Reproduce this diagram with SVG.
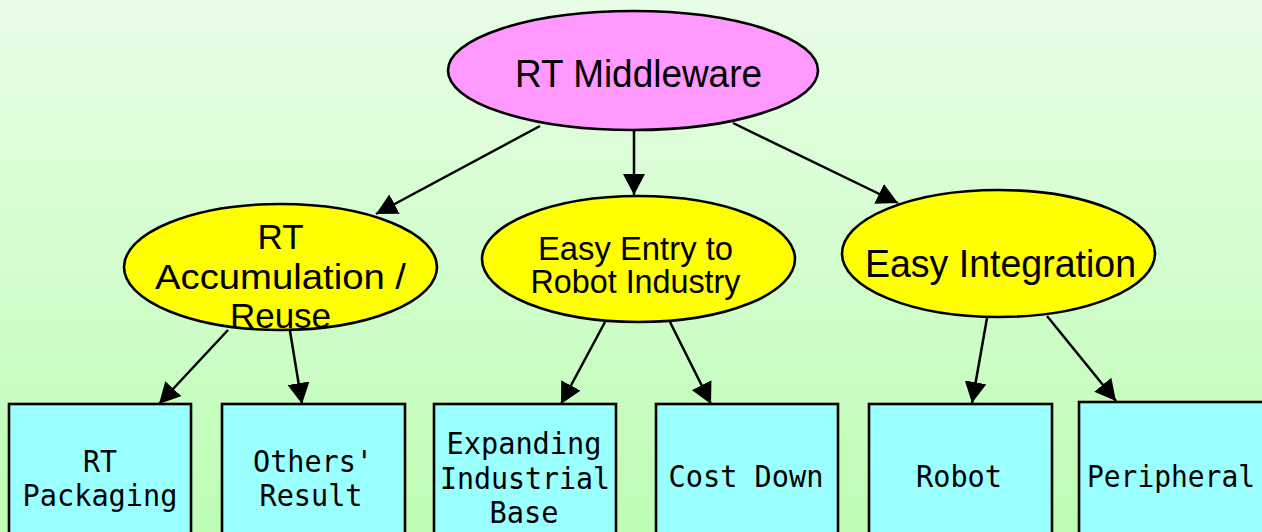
<svg xmlns="http://www.w3.org/2000/svg" width="1262" height="532" viewBox="0 0 1262 532">
<defs>
<linearGradient id="bg" x1="0" y1="0" x2="0" y2="1">
<stop offset="0" stop-color="#e8fde6"/>
<stop offset="1" stop-color="#bdfdb4"/>
</linearGradient>
<marker id="ah" markerUnits="userSpaceOnUse" markerWidth="22" markerHeight="22" refX="21" refY="11" orient="auto" viewBox="0 0 22 22">
<path d="M0,0 L21,11 L0,22 z" fill="#000"/>
</marker>
<style>
.ell{stroke:#000;stroke-width:2.6}
.mid{fill:#ff99ff}
.yel{fill:#ffff00}
.box{fill:#99ffff;stroke:#000;stroke-width:2.6}
.edge{stroke:#000;stroke-width:2.5;fill:none;marker-end:url(#ah)}
.sans{font-family:"Liberation Sans",Arial,sans-serif;fill:#000;text-anchor:middle}
.mono{font-family:"DejaVu Sans Mono","Liberation Mono",monospace;font-size:30px;fill:#000;text-anchor:middle}
</style>
</defs>
<rect x="0" y="0" width="1262" height="532" fill="url(#bg)"/>
<g id="connectors">
<line class="edge" x1="540" y1="126" x2="376" y2="214"/>
<line class="edge" x1="634" y1="130" x2="634" y2="195"/>
<line class="edge" x1="733" y1="123" x2="898" y2="203"/>
<line class="edge" x1="228" y1="330" x2="159" y2="404"/>
<line class="edge" x1="290" y1="331" x2="302" y2="404"/>
<line class="edge" x1="605" y1="322" x2="561" y2="404"/>
<line class="edge" x1="670" y1="322" x2="711" y2="404"/>
<line class="edge" x1="987" y1="318" x2="972" y2="403"/>
<line class="edge" x1="1047" y1="316" x2="1116" y2="401"/>
</g>
<g id="rt-middleware">
<ellipse class="ell mid" cx="633" cy="70.5" rx="185" ry="59.5"/>
<text class="sans" x="638.5" y="87" font-size="38" textLength="247" lengthAdjust="spacingAndGlyphs">RT Middleware</text>
</g>
<g id="rt-accumulation">
<ellipse class="ell yel" cx="280.5" cy="267" rx="156.5" ry="63"/>
<text class="sans" x="280.5" y="249" font-size="35">RT</text>
<text class="sans" x="280.5" y="289" font-size="35" textLength="251" lengthAdjust="spacingAndGlyphs">Accumulation /</text>
<text class="sans" x="280.5" y="328" font-size="35">Reuse</text>
</g>
<g id="easy-entry">
<ellipse class="ell yel" cx="638.5" cy="259" rx="156.5" ry="63"/>
<text class="sans" x="635.5" y="260" font-size="32.5" textLength="195" lengthAdjust="spacingAndGlyphs">Easy Entry to</text>
<text class="sans" x="635.5" y="293" font-size="32.5" textLength="210" lengthAdjust="spacingAndGlyphs">Robot Industry</text>
</g>
<g id="easy-integration">
<ellipse class="ell yel" cx="998.5" cy="253.5" rx="156.5" ry="63.5"/>
<text class="sans" x="1000.5" y="277" font-size="38" textLength="271" lengthAdjust="spacingAndGlyphs">Easy Integration</text>
</g>
<g id="rt-packaging">
<rect class="box" x="9" y="404" width="182" height="140"/>
<text class="mono" x="100" y="472" textLength="34" lengthAdjust="spacingAndGlyphs">RT</text>
<text class="mono" x="100" y="506" textLength="155" lengthAdjust="spacingAndGlyphs">Packaging</text>
</g>
<g id="others-result">
<rect class="box" x="222" y="404" width="183" height="140"/>
<text class="mono" x="313" y="472" textLength="120" lengthAdjust="spacingAndGlyphs">Others'</text>
<text class="mono" x="311" y="506" textLength="103" lengthAdjust="spacingAndGlyphs">Result</text>
</g>
<g id="expanding-industrial-base">
<rect class="box" x="434" y="404" width="182" height="140"/>
<text class="mono" x="524" y="454" textLength="155" lengthAdjust="spacingAndGlyphs">Expanding</text>
<text class="mono" x="525" y="489" textLength="170" lengthAdjust="spacingAndGlyphs">Industrial</text>
<text class="mono" x="524" y="523" textLength="69" lengthAdjust="spacingAndGlyphs">Base</text>
</g>
<g id="cost-down">
<rect class="box" x="656" y="404" width="182" height="140"/>
<text class="mono" x="746" y="487" textLength="155" lengthAdjust="spacingAndGlyphs">Cost Down</text>
</g>
<g id="robot">
<rect class="box" x="869" y="404" width="183" height="140"/>
<text class="mono" x="959" y="487" textLength="86" lengthAdjust="spacingAndGlyphs">Robot</text>
</g>
<g id="peripheral">
<rect class="box" x="1079" y="402" width="186" height="142"/>
<text class="mono" x="1171" y="487" textLength="168" lengthAdjust="spacingAndGlyphs">Peripheral</text>
</g>
</svg>
